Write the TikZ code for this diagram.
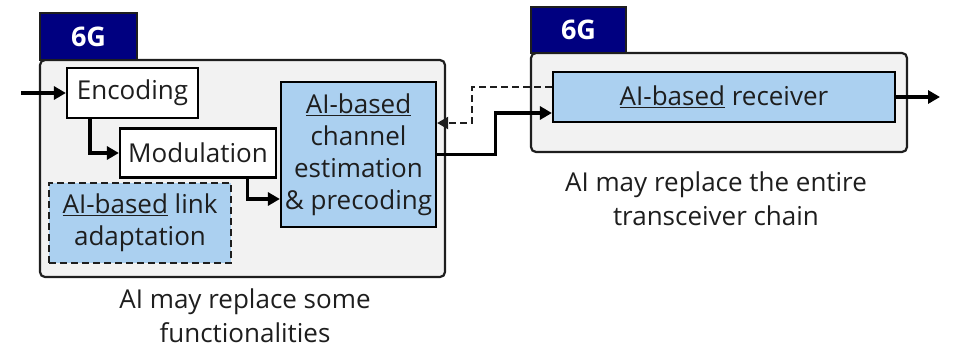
\documentclass[tikz,border=0pt]{standalone}
\usepackage{fontspec}
\setmainfont{Open Sans}
\usepackage{tikz}
\usetikzlibrary{arrows.meta, positioning, calc}
\definecolor{navysix}{RGB}{0,0,128}
\definecolor{aiblue}{RGB}{171,208,240}
\definecolor{shellgray}{RGB}{242,242,242}
\definecolor{inkgray}{RGB}{30,30,30}
\tikzstyle{arrow} = [line width=3.2pt,-{Triangle[length=12pt,width=13pt]}]
\tikzstyle{feedback} = [line width=2.2pt,draw=inkgray,dash pattern=on 7pt off 4pt,-{Triangle[length=11pt,width=12pt]}]
\tikzstyle{block} = [rectangle, draw=black, line width=2.2pt, fill=white, inner sep=0pt, text centered, text=inkgray, font=\fontsize{26}{32}\selectfont]
\tikzstyle{aiblock} = [block, fill=aiblue]
\tikzstyle{shell} = [rectangle, rounded corners=5pt, draw=inkgray, line width=2.2pt, fill=shellgray, inner sep=0pt]
\tikzstyle{tab} = [rectangle, draw=inkgray, line width=2.2pt, fill=navysix, inner sep=0pt, text=white, font=\fontsize{27}{32}\selectfont\bfseries]
\tikzstyle{caption} = [align=center, text=inkgray, font=\fontsize{26}{34}\selectfont]

\begin{document}
\begin{tikzpicture}[x=1pt,y=-1pt]
	\useasboundingbox (0,0) rectangle (957,351);
	% transmitter side
	\node[shell,minimum width=405pt,minimum height=217pt](txshell) at (242.5,168.5) {};
	\node[tab,minimum width=97pt,minimum height=47pt](txtab) at (88.5,36.5) {6G};
	\node[block,minimum width=131pt,minimum height=50pt](enc) at (132.5,93) {Encoding};
	\node[block,minimum width=156pt,minimum height=49pt](mod) at (198,153) {Modulation};
	\node[aiblock,align=center,minimum width=155pt,minimum height=145pt](chan) at (358.5,154.5) {\underline{AI-based}\\channel\\estimation\\\& precoding};
	\node[aiblock,align=center,draw=inkgray,dash pattern=on 7pt off 4pt,minimum width=182pt,minimum height=80pt](link) at (140,223) {\underline{AI-based} link\\adaptation};
	\node[caption](txcap) at (245,316) {AI may replace some\\functionalities};
	% receiver side
	\node[shell,minimum width=376pt,minimum height=99pt](rxshell) at (719,102.5) {};
	\node[tab,minimum width=95pt,minimum height=46pt](rxtab) at (578.5,30) {6G};
	\node[aiblock,minimum width=342pt,minimum height=50pt](rx) at (724,97) {\underline{AI-based} receiver};
	\node[caption](rxcap) at (716,199) {AI may replace the entire\\transceiver chain};
	\coordinate (in) at (21,93);
	\coordinate (out) at (940,97);
	% connectors
	\draw[arrow] (in) -- (enc.west);
	\draw[arrow] ([xshift=24pt]enc.south west) |- (mod.west);
	\draw[arrow] ([xshift=-30pt]mod.south east) |- ([yshift=-44.5pt]chan.west);
	\draw[arrow] (chan.east) -- ++(58,0) |- ([yshift=-16pt]rx.west);
	\draw[feedback] ([yshift=10pt]rx.west) -- ++(-80,0) |- ([yshift=31.5pt]chan.east);
	\draw[arrow] (rx.east) -- (out);
\end{tikzpicture}
\end{document}
